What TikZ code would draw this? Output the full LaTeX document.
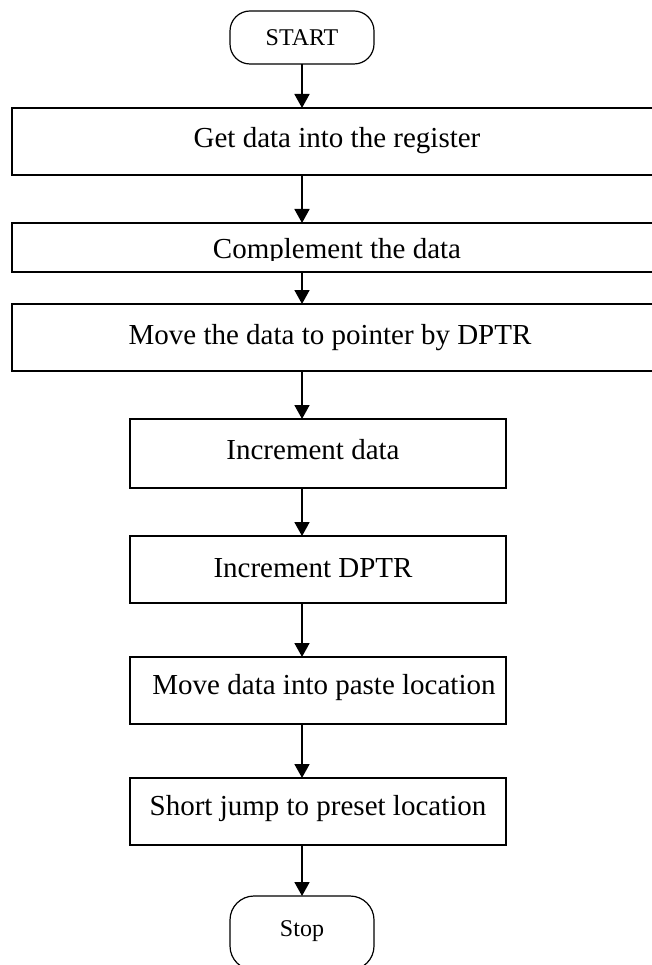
\documentclass[tikz,border=0pt]{standalone}
\usepackage{fontspec}
\setmainfont{Liberation Serif}
\usetikzlibrary{arrows.meta}
\begin{document}
\begin{tikzpicture}[x=1pt,y=-1pt,
  box/.style={draw,line width=1.5pt},
  term/.style={draw,line width=1.2pt,rounded corners=20pt},
  flow/.style={-{Triangle[length=14pt,width=15pt]},line width=1.8pt},
  bigtxt/.style={font=\fontsize{29}{29}\selectfont,inner sep=0pt},
  smtxt/.style={font=\fontsize{24}{24}\selectfont,inner sep=0pt}]
\useasboundingbox (0,0) rectangle (652,965);
\clip (0,0) rectangle (652,965);
% terminals
\draw[term] (230,11) rectangle (374,64);
\node[smtxt] (start) at (302,38) {START};
\coordinate (sb) at (302,64);
% big boxes
\draw[box] (12,108) rectangle (662,175);
\node[bigtxt] (b1) at (337,141) {Get data into the register};
\coordinate (b1t) at (302,108);
\coordinate (b1b) at (302,175);
\draw[box] (12,223) rectangle (662,272);
\begin{scope}
\clip (12,223) rectangle (662,261);
\node[bigtxt,anchor=base] (b2) at (337,259) {Complement the data};
\end{scope}
\coordinate (b2t) at (302,223);
\coordinate (b2b) at (302,272);
\draw[box] (12,304) rectangle (662,371);
\node[bigtxt] (b3) at (330,338) {Move the data to pointer by DPTR};
\coordinate (b3t) at (302,304);
\coordinate (b3b) at (302,371);
% small boxes
\draw[box] (130,419) rectangle (506,488);
\node[bigtxt] (b4) at (313,450) {Increment data};
\coordinate (b4t) at (302,419);
\coordinate (b4b) at (302,488);
\draw[box] (130,536) rectangle (506,603);
\node[bigtxt] (b5) at (313,568) {Increment DPTR};
\coordinate (b5t) at (302,536);
\coordinate (b5b) at (302,603);
\draw[box] (130,657) rectangle (506,724);
\node[bigtxt] (b6) at (324,688) {Move data into paste location};
\coordinate (b6t) at (302,657);
\coordinate (b6b) at (302,724);
\draw[box] (130,778) rectangle (506,845);
\node[bigtxt] (b7) at (318,809) {Short jump to preset location};
\coordinate (b7t) at (302,778);
\coordinate (b7b) at (302,845);
\draw[term,rounded corners=24pt] (230,896) rectangle (374,970);
\node[smtxt] (stop) at (302,931) {Stop};
\coordinate (st) at (302,896);
% connectors
\draw[flow] (sb) -- (b1t);
\draw[flow] (b1b) -- (b2t);
\draw[flow] (b2b) -- (b3t);
\draw[flow] (b3b) -- (b4t);
\draw[flow] (b4b) -- (b5t);
\draw[flow] (b5b) -- (b6t);
\draw[flow] (b6b) -- (b7t);
\draw[flow] (b7b) -- (st);
\end{tikzpicture}
\end{document}
